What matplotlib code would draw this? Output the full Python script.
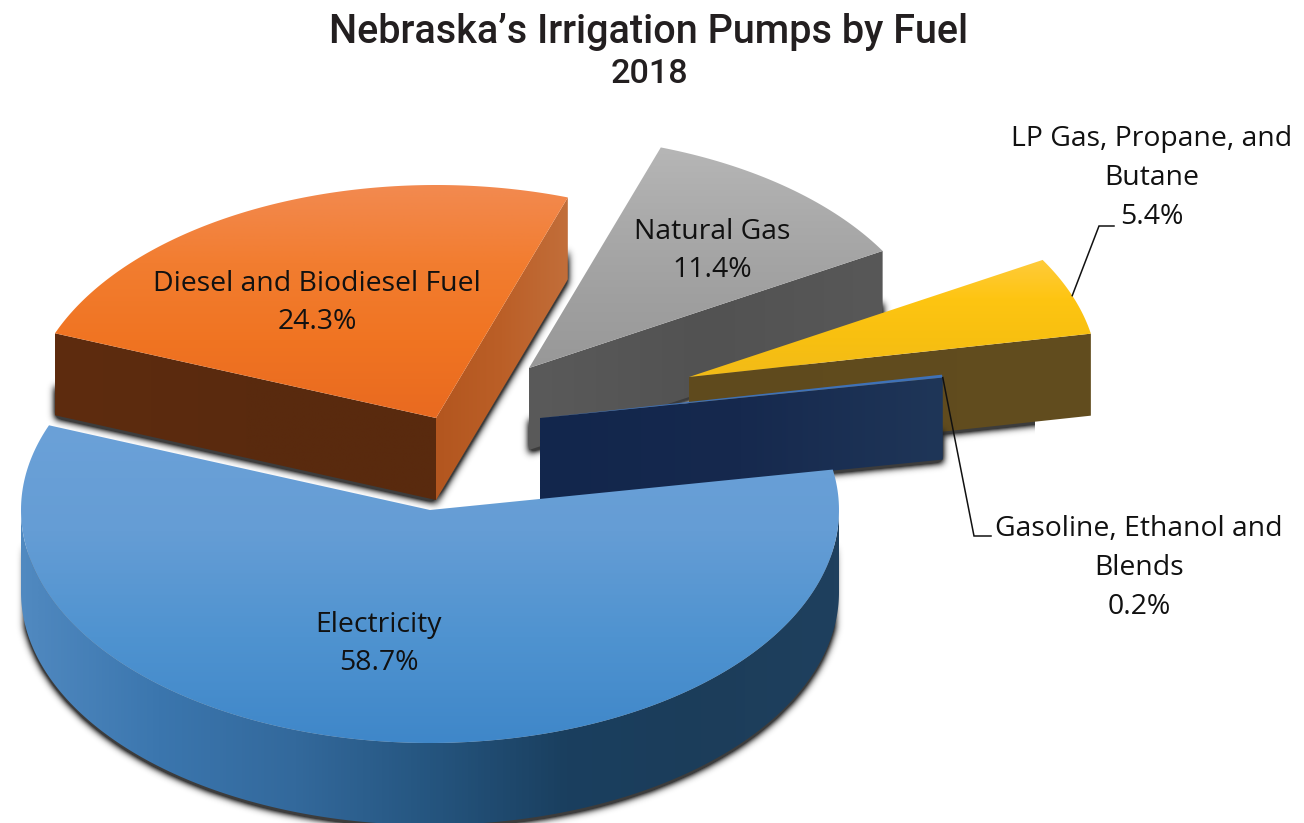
import numpy as np
import matplotlib
matplotlib.use("Agg")
import matplotlib.pyplot as plt
from matplotlib.colors import LinearSegmentedColormap
from matplotlib.patches import Polygon
from matplotlib.path import Path

# ---- data ----
categories = ["Electricity", "Diesel and Biodiesel Fuel", "Natural Gas",
              "LP Gas, Propane, and Butane", "Gasoline, Ethanol and Blends"]
shares = [58.7, 24.3, 11.4, 5.4, 0.2]
label_text = ["Electricity", "Diesel and Biodiesel Fuel", "Natural Gas",
              "LP Gas, Propane, and\nButane", "Gasoline, Ethanol and\nBlends"]
title_text = "Nebraska\u2019s Irrigation Pumps by Fuel"
subtitle_text = "2018"

# ---- layout ----
W, H = 1304, 823
CX, CY, RX, RY, DEPTH = 430, 510, 409, 233, 82
START = 10.0
explode = [(0, 0), (6, -92), (99, -142), (259, -133), (110, -92)]
label_pos = [(379, 644), (317, 303), (712, 251), (1152, 178), (1139, 568)]
elbows = {3: [(1099, 226), (1114, 226)], 4: [(974, 536), (991, 536)]}
leader_angle = {3: 0.5, 4: 0.0}
shadow_xrange = {3: (0, 1035), 4: (700, W)}

top_stops = [["#6ba1d8", "#659dd5", "#4f93d0", "#3f87c9"],
             ["#f28a50", "#f27d30", "#f07422", "#e96a20"],
             ["#b6b6b6", "#aaaaaa", "#a0a0a0", "#989898"],
             ["#ffcb3c", "#fec512", "#f8c010", "#f2bb18"],
             ["#3f72b8", "#3f72b8"]]
lo_face = [None, ["#b3561f", "#bb5f27", "#c26e3a"], ["#5a5a5a", "#525252", "#585858"],
           ["#5f4a1d", "#624d1f"], ["#12264c", "#16294e", "#1f3658"]]
hi_face = [None, ["#5e2c0f", "#5a2a0e", "#592a0e"], None, None, None]
wall_stops = ["#5089c0", "#3b76ae", "#33699c", "#25557f", "#1a3f5f", "#1c3d5a", "#1f405e"]

plt.rcParams["font.family"] = ["Open Sans", "DejaVu Sans"]
fig = plt.figure(figsize=(W / 100, H / 100), dpi=100, facecolor="white")
ax = fig.add_axes([0, 0, 1, 1])
ax.set_axis_off()


def pt(c, t):
    t = np.radians(t)
    return np.column_stack([c[0] + RX * np.cos(t), c[1] - RY * np.sin(t)])


def gradient(poly, colors, vertical, z):
    patch = Polygon(poly, closed=True, fc="none", ec="none", zorder=z)
    ax.add_patch(patch)
    x0, y0 = poly.min(axis=0)
    x1, y1 = poly.max(axis=0)
    cmap = LinearSegmentedColormap.from_list("g", colors)
    g = np.linspace(0, 1, 256)
    arr = g[:, None] if vertical else g[None, :]
    im = ax.imshow(arr, cmap=cmap, extent=(x0, x1, y1, y0), aspect="auto",
                   zorder=z, interpolation="bilinear")
    im.set_clip_path(patch)
    return im


def blur1d(a, kernel, axis):
    return np.apply_along_axis(lambda v: np.convolve(v, kernel, mode="same"), axis, a)


def shadow(poly, z, dy=3, sigma=3.6, gain=1.9, xrange=None):
    """Soft shadow: rasterise the shape on the pixel grid and blur it."""
    m = 18
    x0, y0 = np.floor(poly.min(axis=0)).astype(int) - m
    x1, y1 = np.ceil(poly.max(axis=0)).astype(int) + m + dy
    xs, ys = np.meshgrid(np.arange(x0, x1) + 0.5, np.arange(y0, y1) + 0.5)
    inside = Path(poly + [0, dy]).contains_points(np.column_stack([xs.ravel(), ys.ravel()]))
    mask = inside.reshape(xs.shape).astype(float)
    r = np.arange(-12, 13)
    k = np.exp(-r ** 2 / (2 * sigma ** 2))
    k /= k.sum()
    mask = blur1d(blur1d(mask, k, 0), k, 1)
    alpha = np.clip(mask * gain, 0, 1) * 0.85
    if xrange is not None:
        alpha[(xs < xrange[0]) | (xs > xrange[1])] = 0
    rgba = np.zeros(alpha.shape + (4,))
    rgba[..., :3] = 0.1
    rgba[..., 3] = alpha
    ax.imshow(rgba, extent=(x0, x1, y1, y0), aspect="auto", zorder=z, interpolation="bilinear")


def face(c, t):
    a = pt(c, np.array([t]))[0]
    return np.array([c, a, a + [0, DEPTH], np.array(c) + [0, DEPTH]], dtype=float)


def face_shadow(c, t, z, xrange=None):
    f = face(c, t)
    f[:2, 1] += 50          # keep the shadow low on the wall, as a cast shadow
    shadow(f, z, xrange=xrange)


def draw_slice(i, hi, lo, z):
    c = (CX + explode[i][0], CY + explode[i][1])
    ts = np.linspace(lo, hi, 240)
    top = np.vstack([[c], pt(c, ts)])
    if i != 0:
        if lo_face[i]:
            face_shadow(c, lo, z, shadow_xrange.get(i))
        if hi_face[i]:
            face_shadow(c, hi, z)
    else:
        sarc = pt(c, np.linspace(188, 352, 300))
        shadow(np.vstack([sarc, sarc[::-1] + [0, DEPTH]]), z)
        arc = pt(c, np.linspace(180, 360, 300))
        gradient(np.vstack([arc, arc[::-1] + [0, DEPTH]]), wall_stops, False, z + 0.1)
    if lo_face[i]:
        gradient(face(c, lo), lo_face[i], False, z + 0.2)
    if hi_face[i]:
        gradient(face(c, hi), hi_face[i], False, z + 0.2)
    gradient(top, top_stops[i], True, z + 0.3)
    return c


# clockwise from START, exactly as a pie accumulates its shares
sweep = np.cumsum([0] + shares) * 3.6
his = [(START - sweep[i]) % 360 for i in range(len(shares))]
los = [(START - sweep[i + 1]) % 360 for i in range(len(shares))]
his[0] += 360               # the largest slice wraps through 360 degrees

order = [1, 2, 3, 4, 0]
centres = {}
for z, i in enumerate(order):
    centres[i] = draw_slice(i, his[i], los[i], 2 + z)

# labels
for i, (txt, p) in enumerate(zip(label_text, label_pos)):
    ax.text(p[0], p[1], f"{txt}\n{shares[i]:.1f}%", ha="center", va="center",
            fontsize=20.4, color="#111111", linespacing=1.52, zorder=20)

# leader lines
for i, pts in elbows.items():
    t = los[i] + leader_angle[i] * (his[i] - los[i])
    a = pt(centres[i], np.array([t]))[0]
    xs, ys = zip(*([tuple(a)] + pts))
    ax.plot(xs, ys, color="#111111", lw=1.1, zorder=19, solid_joinstyle="miter")

ax.text(649, 32, title_text, ha="center", va="center", family="Roboto",
        fontweight="medium", fontsize=28.5, color="#231f20")
ax.text(649, 74, subtitle_text, ha="center", va="center", family="Roboto",
        fontweight="medium", fontsize=24.6, color="#231f20")

ax.set_xlim(0, W)
ax.set_ylim(H, 0)
fig.savefig("out.png", dpi=100, facecolor="white")
